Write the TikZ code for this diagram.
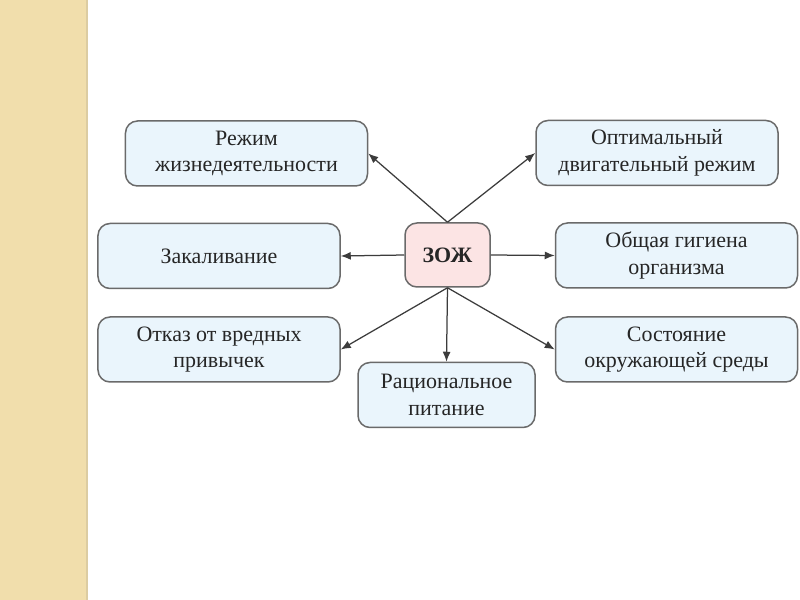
\documentclass[tikz,border=0pt]{standalone}
\usepackage{fontspec}
\setmainfont{Liberation Serif}
\usetikzlibrary{positioning,arrows.meta}
\definecolor{stripCol}{HTML}{F1DEAC}
\definecolor{stripEdge}{HTML}{DCCCA2}
\definecolor{boxFill}{HTML}{EAF5FC}
\definecolor{boxDraw}{HTML}{6A6A6A}
\definecolor{hubFill}{HTML}{FCE4E4}
\definecolor{arrCol}{HTML}{3C3C3C}

\begin{document}
\begin{tikzpicture}[
    x=0.2mm, y=-0.2mm,
    >={Latex[length=2mm,width=1.6mm]},
    font=\fontsize{12.5}{15}\selectfont,
    box/.style={rounded corners=2.4mm, draw=boxDraw, fill=boxFill, line width=0.3mm,
      minimum width=48.4mm, minimum height=13mm, align=center, inner sep=2pt, text=black!85},
    hub/.style={box, fill=hubFill, minimum width=17mm, minimum height=12.8mm,
      font=\fontsize{12.5}{15}\selectfont\bfseries},
    arr/.style={->, line width=0.25mm, draw=arrCol},
  ]

% Page and side strip
\useasboundingbox (0,0) rectangle (800,600);
\fill[white] (0,0) rectangle (800,600);
\fill[stripCol] (0,0) rectangle (86,600);
\draw[stripEdge, line width=0.4mm] (86.5,0) -- (86.5,600);

% Centre
\node[hub] (zozh) at (447.5,255) {ЗОЖ};

% Surrounding boxes
\node[box] (regime) at (246.5,153.5) {Режим\\жизнедеятельности};
\node[box] (motion) at (657,153) {Оптимальный\\двигательный режим};
\node[box] (harden) at (219,256) {Закаливание};
\node[box] (hygiene) at (676.5,255.5) {Общая гигиена\\организма};
\node[box] (habits) at (219,349.5) {Отказ от вредных\\привычек};
\node[box] (environ) at (676.5,349.5) {Состояние\\окружающей среды};
\node[box, minimum width=35.4mm] (food) at (446.5,395) {Рациональное\\питание};

% Arrows out of the centre
\draw[arr] (zozh.north) -- (regime.east);
\draw[arr] (zozh.north) -- (motion.west);
\draw[arr] (zozh.west) -- (harden.east);
\draw[arr] (zozh.east) -- (hygiene.west);
\draw[arr] (zozh.south) -- (habits.east);
\draw[arr] (zozh.south) -- (food.north);
\draw[arr] (zozh.south) -- (environ.west);

\end{tikzpicture}
\end{document}
